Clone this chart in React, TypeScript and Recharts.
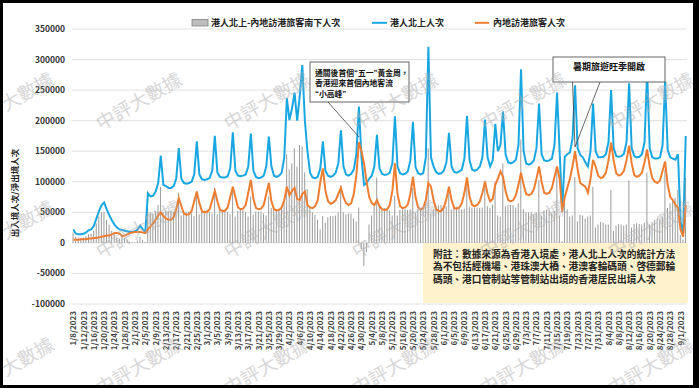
import React from 'react';
import { ComposedChart, Bar, Line, XAxis, YAxis, CartesianGrid } from 'recharts';

// 港人北上人次 (daily, from 1/8/2023)
const northbound: number[] = [
  22000, 15000, 14000, 14000, 15000, 17000, 21000,
  22000, 28000, 40000, 52000, 62000, 66000, 55000,
  45000, 37000, 30000, 25000, 22000, 21000, 20000,
  19000, 18000, 18000, 19000, 22000, 28000, 22000,
  18000, 81000, 76000, 77000, 84000, 98000, 143000,
  95000, 93000, 90000, 90000, 93000, 105000, 155000,
  105000, 98000, 97000, 98000, 100000, 112000, 166000,
  112000, 104000, 103000, 104000, 106000, 118000, 175000,
  115000, 108000, 107000, 107000, 109000, 122000, 181000,
  118000, 110000, 109000, 110000, 112000, 125000, 179000,
  118000, 108000, 106000, 107000, 110000, 125000, 174000,
  125000, 110000, 108000, 110000, 115000, 140000, 237000,
  201000, 220000, 246000, 200000, 240000, 291000, 200000,
  150000, 115000, 107000, 106000, 108000, 122000, 166000,
  118000, 110000, 108000, 110000, 115000, 130000, 184000,
  125000, 112000, 110000, 113000, 120000, 145000, 223000,
  140000, 95000, 98000, 105000, 110000, 125000, 177000,
  122000, 113000, 111000, 112000, 115000, 130000, 207000,
  125000, 114000, 112000, 113000, 117000, 135000, 198000,
  124000, 114000, 112000, 114000, 140000, 321000, 140000,
  125000, 116000, 113000, 114000, 118000, 132000, 180000,
  125000, 116000, 115000, 117000, 120000, 138000, 208000,
  135000, 120000, 118000, 120000, 125000, 140000, 202000,
  140000, 125000, 135000, 195000, 150000, 160000, 215000,
  145000, 132000, 130000, 132000, 136000, 160000, 284000,
  150000, 130000, 128000, 130000, 135000, 155000, 228000,
  145000, 135000, 134000, 135000, 138000, 160000, 246000,
  150000, 54000, 141000, 145000, 148000, 170000, 258000,
  155000, 144000, 140000, 132000, 125000, 150000, 228000,
  150000, 140000, 140000, 141000, 145000, 165000, 250000,
  155000, 142000, 141000, 142000, 146000, 165000, 261000,
  155000, 142000, 140000, 141000, 145000, 165000, 280000,
  155000, 140000, 138000, 138000, 140000, 160000, 264000,
  152000, 140000, 138000, 136000, 145000, 35000, 15000,
  175000,
];

// 內地訪港旅客人次
const mainlandVisitors: number[] = [
  5000, 5000, 5000, 6000, 6000, 6000, 7000,
  7000, 8000, 8000, 9000, 10000, 11000, 12000,
  12000, 14000, 16000, 16000, 15000, 11000, 12000,
  14000, 16000, 17000, 18000, 18000, 18000, 17000,
  16000, 22000, 27000, 32000, 38000, 45000, 50000,
  44000, 40000, 38000, 38000, 42000, 55000, 73000,
  60000, 48000, 46000, 47000, 52000, 68000, 84000,
  65000, 52000, 50000, 51000, 55000, 70000, 85000,
  68000, 54000, 52000, 53000, 58000, 75000, 92000,
  75000, 58000, 55000, 56000, 62000, 82000, 103000,
  72000, 57000, 55000, 56000, 62000, 80000, 98000,
  68000, 55000, 53000, 54000, 58000, 70000, 92000,
  78000, 85000, 90000, 72000, 70000, 80000, 84000,
  62000, 58000, 57000, 60000, 70000, 100000, 122000,
  85000, 68000, 64000, 66000, 70000, 80000, 90000,
  75000, 65000, 62000, 65000, 80000, 110000, 165000,
  150000, 130000, 100000, 75000, 65000, 62000, 70000,
  60000, 55000, 54000, 55000, 62000, 85000, 130000,
  80000, 60000, 57000, 58000, 63000, 80000, 108000,
  75000, 58000, 55000, 57000, 70000, 98000, 92000,
  70000, 55000, 52000, 52000, 58000, 72000, 92000,
  70000, 57000, 56000, 58000, 65000, 82000, 107000,
  76000, 62000, 60000, 62000, 68000, 82000, 100000,
  80000, 68000, 72000, 95000, 105000, 117000, 108000,
  85000, 70000, 68000, 70000, 78000, 95000, 115000,
  95000, 80000, 78000, 80000, 88000, 105000, 125000,
  100000, 82000, 80000, 82000, 90000, 108000, 125000,
  105000, 51000, 75000, 90000, 105000, 125000, 150000,
  120000, 98000, 95000, 92000, 82000, 105000, 136000,
  125000, 110000, 106000, 108000, 115000, 135000, 164000,
  135000, 114000, 110000, 112000, 118000, 135000, 159000,
  130000, 111000, 108000, 110000, 115000, 132000, 153000,
  125000, 106000, 100000, 98000, 102000, 118000, 133000,
  95000, 75000, 70000, 62000, 58000, 22000, 10000,
  62000,
];

// 港人北上-內地訪港旅客南下人次
const netFlow: number[] = [
  17000, 10000, 9000, 8000, 9000, 11000, 14000,
  15000, 20000, 32000, 43000, 50000, 50000, 38000,
  30000, 20000, 14000, 9000, 7000, 10000, 8000,
  5000, 2000, 1000, 1000, 4000, 10000, 5000,
  2000, 57000, 50000, 48000, 52000, 62000, 92000,
  51000, 53000, 52000, 52000, 51000, 50000, 82000,
  45000, 50000, 51000, 51000, 48000, 44000, 82000,
  47000, 52000, 53000, 53000, 51000, 48000, 90000,
  47000, 54000, 55000, 54000, 51000, 47000, 89000,
  43000, 52000, 54000, 54000, 50000, 43000, 76000,
  46000, 51000, 51000, 51000, 48000, 45000, 76000,
  57000, 55000, 55000, 56000, 57000, 70000, 145000,
  120000, 130000, 155000, 125000, 160000, 158000, 115000,
  88000, 57000, 50000, 46000, 38000, 22000, 44000,
  33000, 42000, 44000, 44000, 45000, 50000, 94000,
  50000, 47000, 48000, 48000, 40000, 35000, 58000,
  -10000, -38000, -15000, 30000, 45000, 63000, 107000,
  62000, 58000, 57000, 57000, 53000, 45000, 77000,
  45000, 54000, 55000, 55000, 54000, 55000, 90000,
  49000, 56000, 57000, 57000, 70000, 155000, 48000,
  55000, 61000, 61000, 62000, 60000, 60000, 88000,
  55000, 59000, 59000, 59000, 55000, 56000, 101000,
  59000, 58000, 58000, 58000, 57000, 58000, 102000,
  60000, 57000, 63000, 100000, 45000, 43000, 130000,
  60000, 62000, 62000, 62000, 58000, 65000, 169000,
  55000, 50000, 50000, 50000, 47000, 50000, 103000,
  45000, 53000, 54000, 53000, 48000, 52000, 121000,
  45000, 3000, 66000, 55000, 43000, 45000, 108000,
  35000, 46000, 45000, 40000, 43000, 45000, 92000,
  25000, 30000, 34000, 33000, 30000, 30000, 86000,
  20000, 28000, 31000, 30000, 28000, 30000, 102000,
  25000, 31000, 32000, 31000, 30000, 33000, 115000,
  30000, 34000, 38000, 40000, 38000, 42000, 120000,
  57000, 65000, 68000, 74000, 87000, 13000, 5000,
  106000,
];

// category labels: consecutive days starting 1/8/2023
const categories: string[] = northbound.map((_, i) => {
  const d = new Date(2023, 0, 8 + i);
  return `${d.getMonth() + 1}/${d.getDate()}/${d.getFullYear()}`;
});

const yTicks: number[] = [-100000, -50000, 0, 50000, 100000, 150000, 200000, 250000, 300000, 350000];

const seriesNames = {
  net: '港人北上-內地訪港旅客南下人次',
  north: '港人北上人次',
  mainland: '內地訪港旅客人次',
};

const yTitle = '出入境人次/淨出境人次';
const note2 = '暑期旅遊旺季開啟';
const footnote = [
  '附註：數據來源為香港入境處，港人北上人次的統計方法',
  '為不包括經機場、港珠澳大橋、港澳客輪碼頭、啓德郵輪',
  '碼頭、港口管制站等管制站出境的香港居民出境人次',
];
const watermark = '中評大數據';

const data = categories.map((c, i) => ({
  date: c,
  net: netFlow[i],
  north: northbound[i],
  mainland: mainlandVisitors[i],
}));

const FONT = '"Noto Sans CJK TC", "Noto Sans", sans-serif';
const QFONT = '"Liberation Sans", Arial, sans-serif';
const BLUE = '#19a7e2';
const ORANGE = '#ed7d31';
const GRAY = '#9c9c9c';

const XTick = (props: any) => {
  const { x, y, payload } = props;
  return (
    <text
      transform={`translate(${x + 3}, ${y + 7}) rotate(-90)`}
      textAnchor="end"
      fontSize={8}
      fontWeight="bold"
      fill="#404040"
      fontFamily={FONT}
    >
      {payload.value}
    </text>
  );
};

const YTick = (props: any) => {
  const { x, y, payload } = props;
  return (
    <text x={x + 1} y={y} dy="0.35em" textAnchor="end" fontSize={8.5} fontWeight="bold" fill="#333" fontFamily={FONT}>
      {payload.value}
    </text>
  );
};

const wmCols = [7, 135, 263, 391, 519, 647];
const wmRows = [97, 225, 362];

const Q = ({ c }: { c: string }) => <tspan fontFamily={QFONT}>{c}</tspan>;

const Overlay = () => (
  <svg
    width={690}
    height={382}
    style={{ position: 'absolute', left: 0, top: 0, pointerEvents: 'none' }}
    fontFamily={FONT}
  >
    {/* legend */}
    <rect x={189} y={16.5} width={16} height={6.5} fill="#bfbfbf" stroke="#808080" strokeWidth={0.8} />
    <text x={208} y={19.8} dominantBaseline="central" fontSize={9} fontWeight="bold" fill="#222">{seriesNames.net}</text>
    <line x1={369} x2={384} y1={19.8} y2={19.8} stroke={BLUE} strokeWidth={2} />
    <text x={387} y={19.8} dominantBaseline="central" fontSize={9} fontWeight="bold" fill="#222">{seriesNames.north}</text>
    <line x1={472} x2={486} y1={19.8} y2={19.8} stroke={ORANGE} strokeWidth={2} />
    <text x={490} y={19.8} dominantBaseline="central" fontSize={9} fontWeight="bold" fill="#222">{seriesNames.mainland}</text>

    {/* y title */}
    <text
      transform="translate(10.5, 190) rotate(-90)"
      textAnchor="middle"
      dominantBaseline="central"
      fontSize={8.5}
      fontWeight="bold"
      fill="#222"
    >
      {yTitle}
    </text>

    {/* annotation 1 */}
    <line x1={325} y1={99} x2={356} y2={134} stroke="#404040" strokeWidth={0.8} />
    <rect x={307} y={59} width={99} height={40} fill="#fff" stroke="#404040" strokeWidth={0.8} />
    <text x={312} y={69} dominantBaseline="central" fontSize={7.8} fontWeight="bold" fill="#111">
      通關後首個<Q c="“" />五一<Q c="”" />黃金周，
    </text>
    <text x={312} y={79.5} dominantBaseline="central" fontSize={7.8} fontWeight="bold" fill="#111">
      香港迎來首個內地客流
    </text>
    <text x={312} y={90} dominantBaseline="central" fontSize={7.8} fontWeight="bold" fill="#111">
      <Q c="“" />小高峰<Q c="”" />
    </text>

    {/* annotation 2 */}
    <line x1={569.5} y1={79} x2={572} y2={144} stroke="#404040" strokeWidth={0.8} />
    <line x1={597} y1={79} x2={572} y2={144} stroke="#404040" strokeWidth={0.8} />
    <rect x={550} y={54} width={112} height={25} fill="#fff" stroke="#404040" strokeWidth={0.8} />
    <text x={606} y={63} textAnchor="middle" dominantBaseline="central" fontSize={9} fontWeight="bold" fill="#111">{note2}</text>

    {/* footnote */}
    <rect x={420} y={240} width={265} height={60} fill="#fff2cc" />
    {footnote.map((t, i) => (
      <text key={i} x={430} y={250.5 + i * 12.5} dominantBaseline="central" fontSize={9.7} fontWeight="bold" fill="#222">{t}</text>
    ))}

    {/* watermarks */}
    {wmRows.map((ry) =>
      wmCols.map((cx) => (
        <text
          key={`${ry}-${cx}`}
          transform={`translate(${cx}, ${ry}) rotate(-30)`}
          textAnchor="middle"
          dominantBaseline="central"
          fontSize={19}
          fill="#b0b0b0"
          opacity={0.5}
        >
          {watermark}
        </text>
      ))
    )}
  </svg>
);

export default function App() {
  return (
    <div style={{ position: 'absolute', left: 0, top: 0, width: 699, height: 388, background: '#000' }}>
      <div style={{ position: 'absolute', left: 3, top: 3, width: 690, height: 382, background: '#fff', overflow: 'hidden' }}>
        <ComposedChart
          width={690}
          height={382}
          data={data}
          margin={{ top: 26, right: 6, bottom: 0, left: 0 }}
          barCategoryGap="22%"
        >
          <CartesianGrid vertical={false} stroke="#d9d9d9" strokeWidth={0.8} />
          <XAxis
            dataKey="date"
            interval={3}
            height={81}
            axisLine={false}
            tickLine={false}
            tickSize={0}
            tickMargin={0}
            tick={<XTick />}
          />
          <YAxis
            width={69}
            domain={[-100000, 350000]}
            ticks={yTicks}
            axisLine={false}
            tickLine={false}
            tick={<YTick />}
            allowDataOverflow
          />
          <Bar dataKey="net" fill={GRAY} isAnimationActive={false} />
          <Line dataKey="north" type="linear" stroke={BLUE} strokeWidth={2} dot={false} isAnimationActive={false} />
          <Line dataKey="mainland" type="linear" stroke={ORANGE} strokeWidth={2} dot={false} isAnimationActive={false} />
        </ComposedChart>
        <Overlay />
      </div>
    </div>
  );
}
